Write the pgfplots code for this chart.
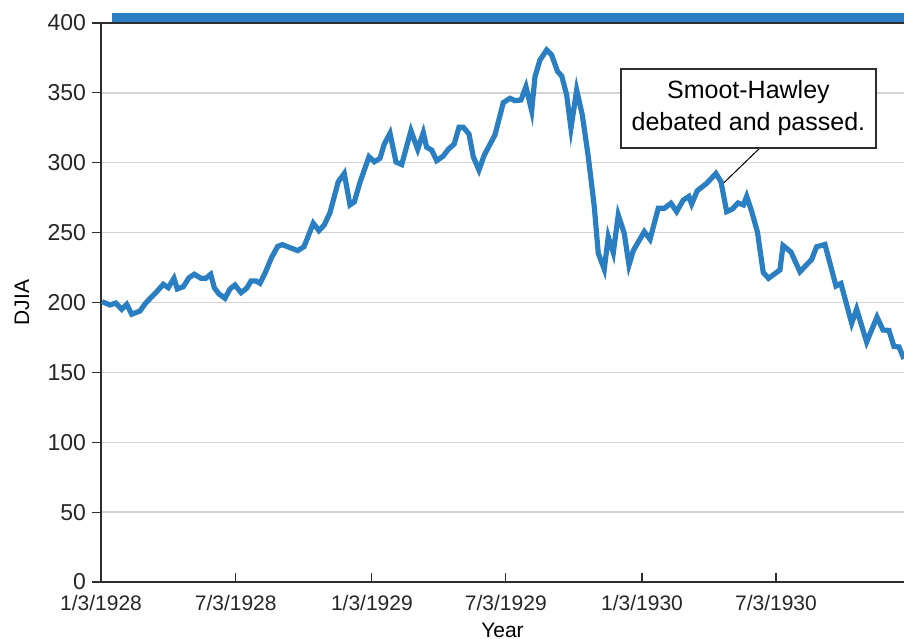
\documentclass[border=0pt]{standalone}
\usepackage{fontspec}
\setmainfont{Liberation Sans}
\usepackage{pgfplots}
\pgfplotsset{compat=1.18}
\definecolor{djblue}{RGB}{42,126,194}
\definecolor{axgray}{RGB}{45,45,45}
\definecolor{gridgray}{RGB}{212,212,212}
\pgfplotstableread{
day value
1.35 200.6
12.2 198.2
19.9 199.6
28.0 195.1
34.7 198.7
41.5 191.6
52.7 193.9
60.4 199.6
68.5 204.1
75.3 207.7
84.2 213.0
90.9 210.6
98.6 217.3
103.1 209.7
111.2 211.3
118.9 217.7
126.1 220.2
135.1 217.3
141.5 217.3
148.2 220.2
153.1 210.6
159.4 206.1
167.5 203.0
174.3 209.7
181.0 212.5
189.2 207.0
196.9 210.2
202.7 215.4
209.4 215.4
214.8 213.7
221.6 220.9
230.6 232.3
238.7 240.1
245.0 241.4
255.4 239.2
265.8 237.1
274.3 239.9
286.8 256.7
294.5 251.4
301.7 255.5
309.4 264.3
320.6 286.4
328.7 292.3
336.4 269.8
342.2 271.9
349.9 285.9
362.1 304.3
369.3 300.7
377.0 303.2
382.8 313.4
390.5 321.1
398.6 300.5
406.3 298.7
418.8 322.9
427.9 309.6
435.5 321.5
440.0 311.1
446.8 309.1
453.6 301.5
462.5 304.8
469.2 309.6
477.3 313.4
483.7 325.4
489.5 325.4
497.2 320.6
503.0 304.3
510.7 294.8
517.9 305.5
532.3 319.9
543.6 343.0
552.6 346.1
559.4 344.4
567.5 344.9
574.2 354.4
581.9 337.2
586.4 361.6
593.1 373.5
602.2 380.7
608.9 377.1
617.0 365.2
622.5 362.1
629.2 348.5
635.0 324.6
642.7 352.1
650.3 334.2
658.4 304.3
666.5 268.6
671.9 235.2
680.0 223.8
685.4 247.1
692.2 235.6
698.9 262.6
707.0 249.5
713.4 226.8
719.2 237.1
734.1 250.7
741.8 245.2
753.0 267.4
761.1 267.4
770.1 271.0
777.8 265.0
786.7 273.3
794.4 275.9
798.1 270.5
805.7 280.0
818.4 285.3
830.9 292.3
837.7 286.4
845.4 265.0
853.2 266.9
860.7 271.2
868.1 269.8
872.4 275.9
879.2 265.1
887.0 250.4
894.8 221.5
901.9 217.3
917.4 223.3
921.5 240.8
932.3 236.1
944.4 222.0
960.2 230.8
967.0 239.9
978.2 241.5
993.1 211.8
999.8 213.6
1014.3 185.1
1021.0 195.3
1034.5 171.7
1048.5 189.6
1056.6 180.3
1064.7 180.0
1071.4 168.5
1078.2 168.2
1084.9 159.6
}\djia
\begin{document}
\begin{tikzpicture}
\begin{axis}[
  scale only axis, width=401.5pt, height=279.5pt,
  xmin=0, xmax=1085, ymin=0, ymax=400,
  clip=false,
  axis lines*=left,
  axis line style={draw=axgray, line width=1pt},
  xtick={0,182,366,547,731,912},
  xticklabels={1/3/1928,7/3/1928,1/3/1929,7/3/1929,1/3/1930,7/3/1930},
  ytick={0,50,100,150,200,250,300,350,400},
  xtick align=inside, ytick align=outside,
  major tick length=4.5pt,
  tick style={draw=axgray, line width=0.6pt},
  ymajorgrids, major grid style={draw=gridgray, line width=0.7pt},
  tick label style={font=\fontsize{10.5}{12}\selectfont, text=black!85},
  xticklabel style={yshift=-3pt},
  yticklabel style={font=\fontsize{11.5}{13}\selectfont, xshift=0.5pt},
  /pgf/number format/assume math mode=true,
  xlabel={Year}, ylabel={DJIA},
  every axis x label/.style={at={(rel axis cs:0.5,0)}, yshift=-24pt, anchor=center, font=\fontsize{10.5}{12}\selectfont},
  every axis y label/.style={at={(rel axis cs:0,0.5)}, xshift=-39.5pt, rotate=90, anchor=center, font=\fontsize{10.5}{12}\selectfont},
]
\addplot[fill=djblue, draw=none, forget plot] coordinates {(15,400.4) (1085,400.4) (1085,407.2) (15,407.2)} -- cycle;
\draw[axgray, line width=1pt] (rel axis cs:0,1) -- (rel axis cs:1,1);
\addplot[djblue, line width=2.6pt, line join=miter, mark=none] table[x=day, y=value] {\djia};
\draw[black, line width=0.5pt] (axis cs:890.4,310.6) -- (axis cs:841.7,285.7);
\node[draw=axgray, line width=0.7pt, fill=white, minimum width=127.5pt, minimum height=39.5pt, align=center, inner sep=0pt,
  font=\fontsize{12.5}{16}\selectfont] at (axis cs:874.8,338.8) {Smoot-Hawley\\debated and passed.};
\coordinate (ll) at (rel axis cs:0,0);
\coordinate (ur) at (rel axis cs:1,1);
\end{axis}
\pgfresetboundingbox
\path ([xshift=-50.5pt,yshift=-28.5pt]ll) rectangle ([yshift=11.5pt]ur);
\end{tikzpicture}
\end{document}
